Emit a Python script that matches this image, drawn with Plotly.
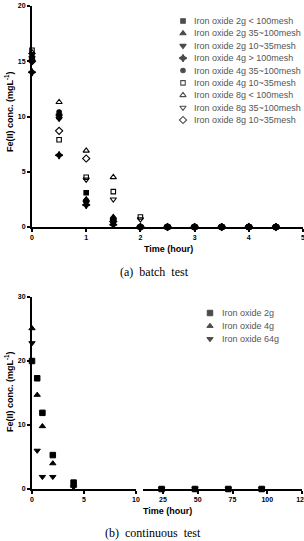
import plotly.graph_objects as go

W, H = 304, 541

# ---------------- data: (a) batch test ----------------
batch_time = [0, 0.5, 1, 1.5, 2, 2.5, 3, 3.5, 4, 4.5]
batch_names = [
    "Iron oxide 2g < 100mesh",
    "Iron oxide 2g 35~100mesh",
    "Iron oxide 2g 10~35mesh",
    "Iron oxide 4g > 100mesh",
    "Iron oxide 4g 35~100mesh",
    "Iron oxide 4g 10~35mesh",
    "Iron oxide 8g < 100mesh",
    "Iron oxide 8g 35~100mesh",
    "Iron oxide 8g 10~35mesh",
]
fe_2g_lt100 = [15.2, 10.0, 3.1, 0.5, 0, 0, 0, 0, 0, 0]
fe_2g_35_100 = [15.5, 10.2, 2.5, 0.9, 0, 0, 0, 0, 0, 0]
fe_2g_10_35 = [15.0, 9.8, 2.2, 0.6, 0, 0, 0, 0, 0, 0]
fe_4g_gt100 = [14.0, 6.5, 2.0, 0.2, 0, 0, 0, 0, 0, 0]
fe_4g_35_100 = [15.3, 10.4, 2.4, 0.3, 0, 0, 0, 0, 0, 0]
fe_4g_10_35 = [16.0, 7.9, 4.5, 3.2, 0.9, 0, 0, 0, 0, 0]
fe_8g_lt100 = [15.8, 11.3, 6.9, 4.5, 0, 0, 0, 0, 0, 0]
fe_8g_35_100 = [15.6, 10.1, 4.3, 2.5, 0.7, 0, 0, 0, 0, 0]
fe_8g_10_35 = [15.0, 8.7, 6.2, 0.5, 0, 0, 0, 0, 0, 0]
batch_series = [fe_2g_lt100, fe_2g_35_100, fe_2g_10_35, fe_4g_gt100, fe_4g_35_100,
                fe_4g_10_35, fe_8g_lt100, fe_8g_35_100, fe_8g_10_35]

# ---------------- data: (b) continuous test ----------------
cont_time = [0, 0.5, 1, 2, 4, 24, 48, 72, 96]
cont_names = ["Iron oxide 2g", "Iron oxide 4g", "Iron oxide 64g"]
fe_cont_2g = [20.0, 17.3, 11.9, 5.3, 1.0, 0, 0, 0, 0]
fe_cont_4g = [25.1, 14.7, 9.8, 4.0, 0.5, 0, 0, 0, 0]
fe_cont_64g = [22.8, 6.0, 1.9, 1.9, 0.3, 0, 0, 0, 0]
cont_series = [fe_cont_2g, fe_cont_4g, fe_cont_64g]

batch_x_ticks = [0, 1, 2, 3, 4, 5]
batch_y_ticks = [0, 5, 10, 15, 20]
cont_x_ticks_a = [0, 5, 10]
cont_x_ticks_b = [25, 50, 75, 100, 125]
cont_y_ticks = [0, 10, 20, 30]
axis_break = 10

# ---------------- styles ----------------
batch_symbols = ["square", "triangle-up", "triangle-down", "star-diamond", "circle",
                 "square-open", "triangle-up-open", "triangle-down-open", "diamond-open"]
batch_sizes = [4.5, 5.5, 5.5, 5.5, 4.5, 4.5, 5.5, 5.5, 5.5]
cont_symbols = ["square", "triangle-up", "triangle-down"]
cont_sizes = [5.5, 5.5, 5.5]


def fx(px):
    return px / W


def fy(py):
    return 1 - py / H


fig = go.Figure()

# panel (a) data
for name, vals, sym, sz in zip(batch_names, batch_series, batch_symbols, batch_sizes):
    fig.add_trace(go.Scatter(
        x=batch_time, y=vals, mode="markers", name=name, showlegend=False,
        xaxis="x", yaxis="y", cliponaxis=False,
        marker=dict(symbol=sym, size=sz, color="black", line=dict(color="black", width=1.1)),
    ))

# panel (b) data, split across the broken axis
for name, vals, sym, sz in zip(cont_names, cont_series, cont_symbols, cont_sizes):
    lo = [(t, v) for t, v in zip(cont_time, vals) if t <= axis_break]
    hi = [(t, v) for t, v in zip(cont_time, vals) if t > axis_break]
    for seg, xa in ((lo, "x2"), (hi, "x3")):
        fig.add_trace(go.Scatter(
            x=[p[0] for p in seg], y=[p[1] for p in seg], mode="markers", name=name,
            showlegend=False, xaxis=xa, yaxis="y2", cliponaxis=False,
            marker=dict(symbol=sym, size=sz, color="black", line=dict(color="black", width=1)),
        ))

# legend markers on hidden axes
rows_a = list(range(len(batch_names)))
fig.add_trace(go.Scatter(
    x=[0] * len(rows_a), y=rows_a, mode="markers", showlegend=False, hoverinfo="skip",
    xaxis="x4", yaxis="y4", cliponaxis=False,
    marker=dict(symbol=batch_symbols, size=batch_sizes, color="black",
                line=dict(color="black", width=1.1)),
))
rows_b = list(range(len(cont_names)))
fig.add_trace(go.Scatter(
    x=[0] * len(rows_b), y=rows_b, mode="markers", showlegend=False, hoverinfo="skip",
    xaxis="x5", yaxis="y5", cliponaxis=False,
    marker=dict(symbol=cont_symbols, size=cont_sizes, color="black",
                line=dict(color="black", width=1)),
))

tickfont = dict(family="Liberation Sans, Arial", size=7, color="black", weight="bold")
common = dict(showline=True, linewidth=2, linecolor="black", ticks="outside", ticklen=3,
              tickwidth=1.5, tickcolor="black", showgrid=False, zeroline=False,
              tickfont=tickfont, layer="below traces", fixedrange=True, automargin=False,
              ticklabeloverflow="allow")
hidden = dict(visible=False, fixedrange=True, automargin=False)

fig.update_layout(
    width=W, height=H, margin=dict(l=0, r=0, t=0, b=0, autoexpand=False),
    paper_bgcolor="white", plot_bgcolor="white", showlegend=False,
    xaxis=dict(domain=[fx(32), fx(303)], range=[0, 5], tickvals=batch_x_ticks, anchor="y", **common),
    yaxis=dict(domain=[fy(227), fy(6)], range=[0, 20], tickvals=batch_y_ticks, anchor="x", **common),
    xaxis2=dict(domain=[fx(32), fx(136)], range=[0, 10], tickvals=cont_x_ticks_a, anchor="y2", **common),
    xaxis3=dict(domain=[fx(143), fx(302)], range=[10.6, 125], tickvals=cont_x_ticks_b, anchor="y2", **common),
    yaxis2=dict(domain=[fy(489), fy(297)], range=[0, 30], tickvals=cont_y_ticks, anchor="x2", **common),
    xaxis4=dict(domain=[fx(183), 1], range=[0, 1], anchor="y4", **hidden),
    yaxis4=dict(domain=[fy(120), fy(21)], range=[len(batch_names) - 1, 0], anchor="x4", **hidden),
    xaxis5=dict(domain=[fx(210), 1], range=[0, 1], anchor="y5", **hidden),
    yaxis5=dict(domain=[fy(339), fy(313)], range=[len(cont_names) - 1, 0], anchor="x5", **hidden),
)

legend_font = dict(family="Liberation Sans, Arial", size=9, color="#555555")
ann = []
for i, name in enumerate(batch_names):
    ann.append(dict(text=name, x=fx(192), xref="paper", y=i, yref="y4", xanchor="left",
                    yanchor="middle", showarrow=False, font=legend_font))
for i, name in enumerate(cont_names):
    ann.append(dict(text=name, x=fx(220), xref="paper", y=i, yref="y5", xanchor="left",
                    yanchor="middle", showarrow=False, font=legend_font))

title_font = dict(family="Liberation Sans, Arial", size=9, color="black", weight="bold")
ann.append(dict(text="Time (hour)", x=fx(168), y=fy(249), xref="paper", yref="paper",
                xanchor="center", yanchor="middle", showarrow=False, font=title_font))
ann.append(dict(text="Time (hour)", x=fx(167), y=fy(511), xref="paper", yref="paper",
                xanchor="center", yanchor="middle", showarrow=False, font=title_font))
ann.append(dict(text="Fe(II) conc. (mgL<sup>-1</sup>)", x=fx(9), y=fy(112), xref="paper", yref="paper",
                xanchor="center", yanchor="middle", textangle=-90, showarrow=False, font=title_font))
ann.append(dict(text="Fe(II) conc. (mgL<sup>-1</sup>)", x=fx(9), y=fy(392), xref="paper", yref="paper",
                xanchor="center", yanchor="middle", textangle=-90, showarrow=False, font=title_font))

cap_font = dict(family="Liberation Serif, Times New Roman", size=12, color="black")
ann.append(dict(text="(a)\u00a0 batch\u00a0 test", x=fx(155), y=fy(272), xref="paper", yref="paper",
                xanchor="center", yanchor="middle", showarrow=False, font=cap_font))
ann.append(dict(text="(b)\u00a0 continuous\u00a0 test", x=fx(153), y=fy(533), xref="paper", yref="paper",
                xanchor="center", yanchor="middle", showarrow=False, font=cap_font))

fig.update_layout(annotations=ann)
fig.write_html("out.html")
